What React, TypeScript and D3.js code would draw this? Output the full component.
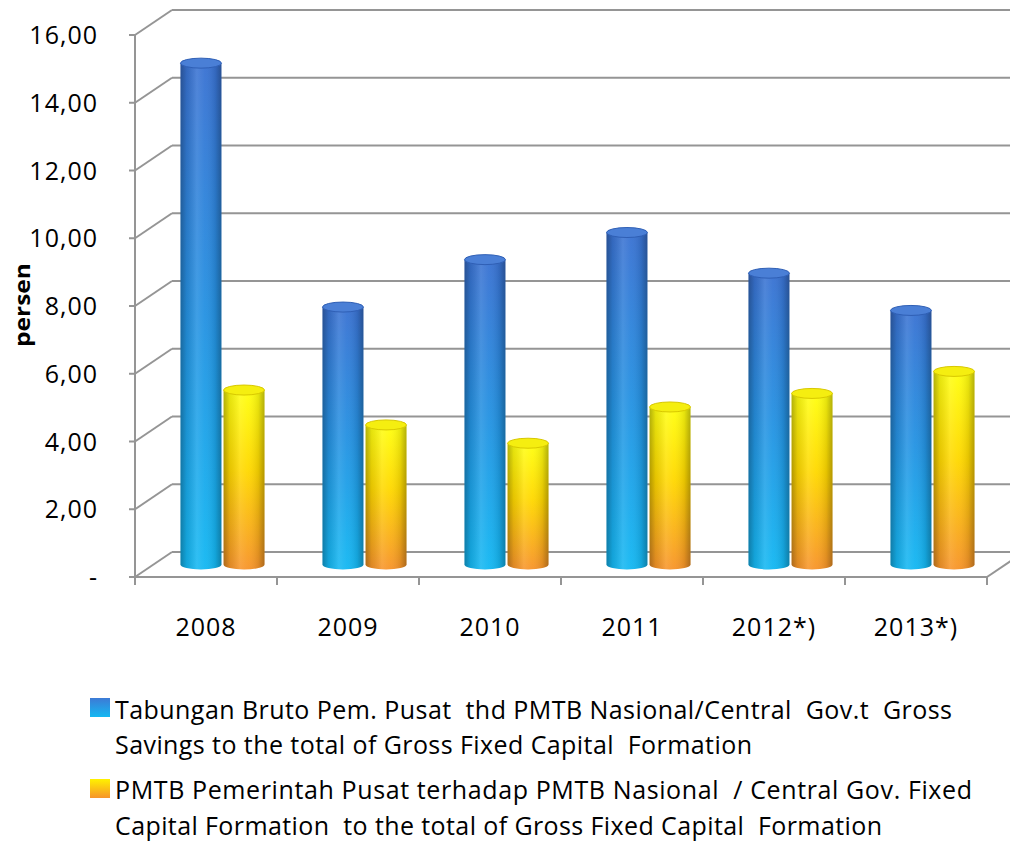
import React from "react";
import * as d3 from "d3";

const categories = ["2008", "2009", "2010", "2011", "2012*)", "2013*)"];
const grossSavings = [14.8, 7.6, 9.0, 9.8, 8.6, 7.5];
const fixedCapital = [5.15, 4.12, 3.58, 4.65, 5.05, 5.7];
const yTicks = [0, 2, 4, 6, 8, 10, 12, 14, 16];
const seriesKeys = ["savings", "capital"];
const legendLines = [
  [
    "Tabungan Bruto Pem. Pusat  thd PMTB Nasional/Central  Gov.t  Gross",
    "Savings to the total of Gross Fixed Capital  Formation",
  ],
  [
    "PMTB Pemerintah Pusat terhadap PMTB Nasional  / Central Gov. Fixed",
    "Capital Formation  to the total of Gross Fixed Capital  Formation",
  ],
];
const legendWidths = [[837, 637], [857, 767]];
const yTitle = "persen";

const W = 1010;
const H = 841;
const X0 = 135;
const X1 = 987;
const DX = 37;
const DY = -25;
const FONT = "'Open Sans', 'DejaVu Sans', sans-serif";
const GRID = "#959595";

export default function App() {
  const y = d3.scaleLinear().domain([0, 16]).range([577, 35]);
  const xb = d3.scaleBand<string>().domain(categories).range([X0, X1]).padding(0);
  const xs = d3.scaleBand<string>().domain(seriesKeys).range([-42, 42]).paddingInner(0.05);
  const bw = xs.bandwidth();
  const rx = bw / 2;
  const ry = 5;
  const values = [grossSavings, fixedCapital];
  const fmt = (v: number) => (v === 0 ? "-" : d3.format(".2f")(v).replace(".", ","));

  const bars: React.ReactNode[] = [];
  categories.forEach((c, i) => {
    seriesKeys.forEach((s, si) => {
      const v = values[si][i];
      const cx = (xb(c) as number) + xb.bandwidth() / 2 + DX / 2 - 2 + (xs(s) as number) + bw / 2;
      const yb = y(0) + DY / 2;
      const yt = y(v) + DY / 2;
      const xl = cx - rx;
      const xr = cx + rx;
      const d = `M${xl},${yt} L${xl},${yb} A${rx},${ry} 0 0 0 ${xr},${yb} L${xr},${yt} Z`;
      bars.push(
        <g key={c + s}>
          <path d={d} fill={`url(#vg${si})`} />
          <path d={d} fill="url(#shade)" />
          <ellipse cx={cx} cy={yt} rx={rx} ry={ry} fill={si === 0 ? "#4a7fd6" : "#f5ee10"} stroke={si === 0 ? "#2f5fb5" : "#d8c800"} strokeWidth={1} />
        </g>
      );
    });
  });

  const legendSquareY = [698, 779];
  const legendBaseY = [[719, 754], [799, 835]];

  return (
    <svg width={W} height={H} style={{ position: "absolute", left: 0, top: 0, background: "#fff" }}>
      <defs>
        <linearGradient id="vg0" x1="0" y1="0" x2="0" y2="1">
          <stop offset="0" stopColor="#3a72d2" />
          <stop offset="0.5" stopColor="#2592e2" />
          <stop offset="1" stopColor="#14b8f2" />
        </linearGradient>
        <linearGradient id="vg1" x1="0" y1="0" x2="0" y2="1">
          <stop offset="0" stopColor="#ffff10" />
          <stop offset="0.45" stopColor="#ffd800" />
          <stop offset="1" stopColor="#f7942a" />
        </linearGradient>
        <linearGradient id="shade" x1="0" y1="0" x2="1" y2="0">
          <stop offset="0" stopColor="#000" stopOpacity={0.3} />
          <stop offset="0.15" stopColor="#000" stopOpacity={0.1} />
          <stop offset="0.4" stopColor="#fff" stopOpacity={0.12} />
          <stop offset="0.6" stopColor="#fff" stopOpacity={0.04} />
          <stop offset="0.85" stopColor="#000" stopOpacity={0.1} />
          <stop offset="1" stopColor="#000" stopOpacity={0.3} />
        </linearGradient>
        <linearGradient id="lg0" x1="0" y1="0" x2="0" y2="1">
          <stop offset="0" stopColor="#3d7ad6" />
          <stop offset="1" stopColor="#14b8f2" />
        </linearGradient>
        <linearGradient id="lg1" x1="0" y1="0" x2="0" y2="1">
          <stop offset="0" stopColor="#fff200" />
          <stop offset="1" stopColor="#f7942a" />
        </linearGradient>
      </defs>

      {yTicks.map((t) => (
        <g key={"g" + t} stroke={GRID} strokeWidth={2} fill="none">
          <line x1={X0} y1={y(t)} x2={X0 + DX} y2={y(t) + DY} />
          <line x1={X0 + DX} y1={y(t) + DY} x2={X1 + DX} y2={y(t) + DY} />
          <line x1={X0 - 6} y1={y(t)} x2={X0} y2={y(t)} />
        </g>
      ))}
      <line x1={X1} y1={y(0)} x2={X1 + DX} y2={y(0) + DY} stroke={GRID} strokeWidth={2} />
      <line x1={X0} y1={y(16)} x2={X0} y2={y(0)} stroke={GRID} strokeWidth={2} />
      <line x1={X0} y1={y(0)} x2={X1} y2={y(0)} stroke={GRID} strokeWidth={2} />
      {categories.map((c) => (
        <line key={"t" + c} x1={xb(c) as number} y1={y(0)} x2={xb(c) as number} y2={y(0) + 8} stroke={GRID} strokeWidth={2} />
      ))}
      <line x1={X1} y1={y(0)} x2={X1} y2={y(0) + 8} stroke={GRID} strokeWidth={2} />

      {bars}

      {yTicks.map((t) => (
        <text key={"l" + t} x={98} y={y(t)} dy="0.36em" textAnchor="end" fontFamily={FONT} fontSize={25} letterSpacing={1} fill="#000">
          {fmt(t)}
        </text>
      ))}
      <text transform={`translate(30,305) rotate(-90)`} textAnchor="middle" fontFamily={FONT} fontSize={21} fontWeight="bold" fill="#000" textLength={84} lengthAdjust="spacingAndGlyphs">
        {yTitle}
      </text>

      {categories.map((c) => (
        <text key={"c" + c} x={(xb(c) as number) + xb.bandwidth() / 2} y={636} textAnchor="middle" fontFamily={FONT} fontSize={25} letterSpacing={1} fill="#000">
          {c}
        </text>
      ))}

      {legendLines.map((lines, li) => (
        <g key={"lg" + li}>
          <rect x={90} y={legendSquareY[li]} width={20} height={19} fill={`url(#lg${li})`} />
          {lines.map((ln, k) => (
            <text key={k} x={115} y={legendBaseY[li][k]} fontFamily={FONT} fontSize={25} fill="#000" textLength={legendWidths[li][k]} lengthAdjust="spacing" style={{ whiteSpace: "pre" }}>
              {ln}
            </text>
          ))}
        </g>
      ))}
    </svg>
  );
}
